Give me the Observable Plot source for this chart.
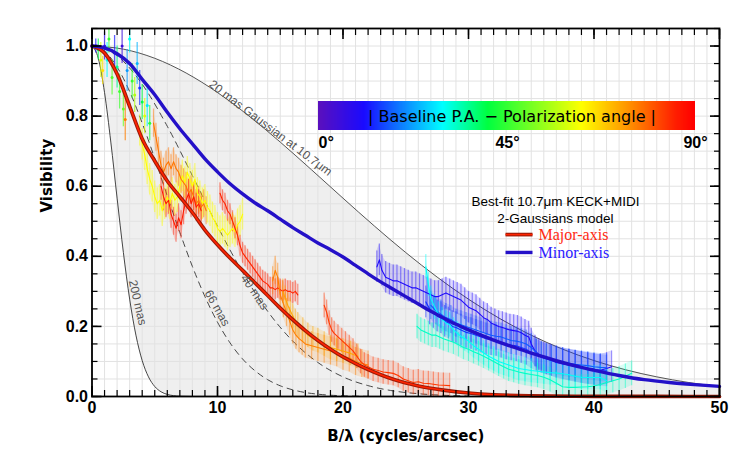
<!DOCTYPE html>
<html><head><meta charset="utf-8">
<script src="https://cdn.jsdelivr.net/npm/d3@7"></script>
<script src="https://cdn.jsdelivr.net/npm/@observablehq/plot@0.6"></script>
<style>
body{margin:0;background:#fff;}
#wrap{position:relative;width:747px;height:456px;overflow:hidden;}
#cbar{position:absolute;left:303px;top:101px;}
#cbarTitle{position:absolute;left:512px;top:116px;font:16px "DejaVu Sans",sans-serif;color:#000;white-space:nowrap;transform:translate(-50%,-50%);}
</style></head><body><div id="wrap"></div>
<script>
// ---------- axes ----------
const xMajor = [0, 10, 20, 30, 40, 50];
const yMajor = [0, 0.2, 0.4, 0.6, 0.8, 1.0];
const xMinor = d3.range(0, 51, 1);
const yMinor = d3.range(0, 22).map(i => i * 0.05);

// ---------- reference Gaussians ----------
const g20F = [0,2.5,5,7.5,10,12.5,15,17.5,20,22.5,25,27.5,30,32.5,35,37.5,40,42.5,45,47.5,50];
const g20V = [1,0.9911,0.9650,0.9230,0.8673,0.8005,0.7259,0.6466,0.5658,0.4864,0.4107,0.3407,0.2776,0.2222,0.1748,0.1350,0.1025,0.0764,0.0560,0.0402,0.0284];
const g200F = [0,0.5,1,1.5,2,2.5,3,3.5,4,4.5,5,5.5,6,7,8,50];
const g200V = [1,0.965,0.867,0.726,0.566,0.411,0.278,0.175,0.1025,0.056,0.0285,0.0135,0.006,0.0009,0.0001,0];
const g40F = [0,2,4,6,8,10,12,14,16,18,20,22,24,26,28,30];
const g40V = [1,0.972,0.891,0.771,0.630,0.486,0.354,0.243,0.158,0.097,0.056,0.031,0.016,0.008,0.0035,0.0015];
const g66F = [0,1,2,3,4,5,6,7,8,9,10,11,12,13,14,15,16,17,18,20,22];
const g66V = [1,0.985,0.940,0.870,0.780,0.679,0.572,0.468,0.371,0.285,0.212,0.153,0.107,0.073,0.048,0.0305,0.019,0.0113,0.0066,0.002,0.0005];

// ---------- 2-Gaussian best-fit models ----------
const majorF = [0,1,2,3,4,5,6,7,8,9,10,11,12,13,14,15,16,17,18,19,20,21,22,23,24,26,28,30,32,35,40,45,50];
const majorV = [1,0.98,0.92,0.828,0.735,0.672,0.615,0.57,0.525,0.475,0.433,0.395,0.36,0.324,0.288,0.252,0.219,0.188,0.16,0.135,0.113,0.094,0.077,0.062,0.049,0.03,0.018,0.01,0.005,0.002,0.0005,0.0001,0];
const minorF = [0,1,2,3,4,5,6,7,8,9,10,11,12,13,14,15,16,17,18,19,20,21,22,23,24,25,26,27,28,29,30,31,32,33,34,35,36,37,38,39,40,42,44,46,48,50];
const minorV = [1,0.995,0.978,0.95,0.905,0.861,0.811,0.764,0.721,0.678,0.641,0.607,0.578,0.552,0.53,0.506,0.482,0.46,0.438,0.419,0.398,0.374,0.35,0.327,0.306,0.285,0.264,0.243,0.224,0.206,0.19,0.175,0.161,0.148,0.136,0.124,0.113,0.102,0.092,0.083,0.075,0.06,0.048,0.04,0.034,0.029];

// ---------- MIDI visibility tracks [B/lambda, V] ----------
const trackYellow = [[3.8,0.76],[4.0,0.72],[4.2,0.69],[4.4,0.65],[4.6,0.62],[4.8,0.60],[5.0,0.57],[5.2,0.55],[5.4,0.56],[5.6,0.53],[5.8,0.55],[6.0,0.57],[6.2,0.55],[6.4,0.58],[6.6,0.56],[6.8,0.57],[7.0,0.60],[7.2,0.63],[7.4,0.61],[7.6,0.64],[7.8,0.62],[8.0,0.60],[8.2,0.62],[8.4,0.58],[8.6,0.57],[8.8,0.55],[9.0,0.56],[9.2,0.54],[9.4,0.53],[9.6,0.51],[9.8,0.50],[10.0,0.48],[10.2,0.47],[10.4,0.48],[10.6,0.47],[10.8,0.46],[11.0,0.47],[11.2,0.48],[11.4,0.47],[11.6,0.49],[11.8,0.50],[12.0,0.52]];
const trackOrangeA = [[4.9,0.78],[5.1,0.74],[5.3,0.70],[5.5,0.66],[5.7,0.64],[5.9,0.66],[6.1,0.67],[6.3,0.65],[6.5,0.67],[6.7,0.65],[6.9,0.64],[7.1,0.62],[7.3,0.61],[7.5,0.60],[7.7,0.58],[7.9,0.59],[8.1,0.57],[8.3,0.55],[8.5,0.56],[8.7,0.54],[8.9,0.55],[9.1,0.53]];
const trackRedA = [[5.5,0.60],[5.7,0.57],[5.9,0.55],[6.1,0.56],[6.3,0.52],[6.5,0.50],[6.7,0.48],[6.9,0.51],[7.1,0.49],[7.3,0.53],[7.5,0.56],[7.7,0.58],[7.9,0.55],[8.1,0.57],[8.3,0.54],[8.5,0.55],[8.7,0.53]];
const trackRedB = [[10.2,0.58],[10.4,0.56],[10.6,0.55],[10.8,0.53],[11.0,0.52],[11.2,0.50],[11.4,0.48],[11.6,0.46],[11.8,0.43],[12.0,0.41],[12.2,0.40],[12.4,0.39],[12.6,0.38],[12.8,0.37],[13.0,0.36],[13.2,0.35],[13.4,0.34],[13.6,0.33],[13.8,0.325],[14.0,0.32],[14.2,0.31],[14.4,0.31],[14.6,0.305],[14.8,0.31],[15.0,0.305],[15.2,0.30],[15.4,0.305],[15.6,0.30],[15.8,0.30],[16.0,0.295],[16.2,0.30],[16.4,0.29]];
const trackOrangeB = [[14.4,0.33],[14.6,0.36],[14.8,0.34],[15.0,0.29],[15.25,0.265],[15.5,0.24],[15.75,0.215],[16.0,0.19],[16.25,0.175],[16.5,0.165],[16.75,0.158],[17.0,0.15],[17.5,0.145],[18.0,0.14],[18.5,0.135],[19.0,0.13],[19.5,0.125],[20.0,0.115],[20.5,0.11],[21.0,0.10],[21.5,0.094],[22.0,0.09]];
const trackOrangeC = [[15.2,0.30],[15.4,0.28],[15.6,0.26],[15.8,0.245],[16.0,0.23],[16.2,0.215],[16.4,0.205],[16.8,0.19],[17.2,0.175],[17.6,0.165],[18.0,0.16],[18.5,0.15],[19.0,0.14],[19.5,0.135],[20.0,0.13],[20.6,0.123],[21.2,0.115]];
const trackRedC = [[18.5,0.26],[18.7,0.24],[18.9,0.21],[19.1,0.19],[19.3,0.18],[19.6,0.17],[19.9,0.16],[20.2,0.15],[20.5,0.14],[20.8,0.13],[21.1,0.115],[21.4,0.10],[21.7,0.09],[22.0,0.085],[22.4,0.078],[22.8,0.074],[23.2,0.07],[23.6,0.068],[24.0,0.066],[24.4,0.06],[24.8,0.05],[25.2,0.045],[25.6,0.04],[26.0,0.042],[26.4,0.038],[26.8,0.037],[27.2,0.035],[27.6,0.033],[28.0,0.032],[28.5,0.031]];
const trackBlueA = [[22.7,0.37],[22.9,0.39],[23.1,0.36],[23.4,0.34],[23.7,0.335],[24.0,0.33],[24.3,0.33],[24.6,0.325],[24.9,0.32],[25.2,0.315],[25.5,0.31],[25.8,0.31],[26.1,0.305],[26.4,0.30],[26.7,0.295],[27.0,0.29],[27.3,0.285],[27.6,0.285],[27.9,0.29],[28.2,0.295],[28.5,0.29],[28.8,0.285],[29.1,0.28],[29.4,0.275],[29.7,0.265],[30.0,0.255],[30.3,0.25],[30.6,0.245],[30.9,0.235],[31.2,0.225],[31.5,0.22],[31.8,0.21],[32.1,0.205],[32.4,0.20],[32.7,0.197],[33.0,0.193],[33.3,0.19],[33.6,0.188],[33.9,0.186],[34.2,0.182],[34.5,0.175],[34.8,0.17],[35.0,0.15],[35.3,0.13],[35.6,0.12],[36.0,0.11],[36.5,0.105],[37.0,0.097],[37.5,0.093],[38.0,0.09],[38.5,0.086],[39.0,0.083],[39.5,0.08],[40.0,0.077],[40.5,0.075],[41.0,0.08],[41.4,0.085]];
const trackBlueB = [[26.6,0.27],[26.9,0.25],[27.2,0.24],[27.5,0.23],[27.8,0.225],[28.1,0.215],[28.4,0.21],[28.7,0.20],[29.0,0.197],[29.4,0.19],[29.8,0.183],[30.2,0.18],[30.6,0.175],[31.0,0.17],[31.4,0.165],[31.8,0.162],[32.2,0.16],[32.6,0.155],[33.0,0.15],[33.4,0.147],[33.8,0.145],[34.2,0.14],[34.6,0.135],[35.0,0.125],[35.4,0.118],[35.8,0.112],[36.2,0.107],[36.6,0.103],[37.0,0.10],[37.5,0.095],[38.0,0.09],[38.5,0.087],[39.0,0.083],[39.5,0.08],[40.0,0.077],[40.5,0.074],[41.0,0.073]];
const trackBlueC = [[27.0,0.26],[27.4,0.245],[27.8,0.235],[28.2,0.225],[28.6,0.22],[29.0,0.21],[29.4,0.205],[29.8,0.20],[30.2,0.195],[30.6,0.19],[31.0,0.185],[31.4,0.18],[31.8,0.175],[32.2,0.172],[32.6,0.17],[33.0,0.165],[33.4,0.16],[33.8,0.158],[34.2,0.155],[34.6,0.15],[35.0,0.14],[35.4,0.125],[35.8,0.115],[36.2,0.11],[36.6,0.105],[37.0,0.102],[37.5,0.098],[38.0,0.095],[38.5,0.092],[39.0,0.09],[39.5,0.088],[40.0,0.085],[40.5,0.083],[41.0,0.082]];
const trackCyanA = [[26.6,0.37],[26.8,0.32],[27.0,0.28],[27.3,0.255],[27.6,0.235],[27.9,0.22],[28.2,0.21],[28.5,0.205],[28.8,0.19],[29.1,0.18],[29.4,0.172],[29.7,0.165],[30.0,0.158],[30.4,0.145],[30.8,0.135],[31.2,0.125],[31.6,0.115],[32.0,0.108],[32.4,0.10],[32.8,0.095],[33.2,0.09],[33.6,0.085],[34.0,0.08],[34.5,0.077],[35.0,0.074],[35.5,0.072],[36.0,0.07],[36.5,0.068],[37.0,0.067],[37.5,0.065],[38.0,0.062],[38.5,0.058],[39.0,0.055],[39.5,0.054],[40.0,0.054],[40.5,0.054],[41.0,0.045]];
const trackCyanB = [[25.9,0.20],[26.2,0.19],[26.5,0.185],[26.8,0.18],[27.1,0.175],[27.4,0.175],[27.7,0.17],[28.0,0.165],[28.4,0.16],[28.8,0.155],[29.2,0.148],[29.6,0.14],[30.0,0.135],[30.4,0.128],[30.8,0.122],[31.2,0.115],[31.6,0.108],[32.0,0.10],[32.4,0.092],[32.8,0.085],[33.2,0.078],[33.6,0.074],[34.0,0.07],[34.5,0.066],[35.0,0.063],[35.5,0.06],[36.0,0.055],[36.5,0.048],[37.0,0.038],[37.5,0.028],[38.0,0.026],[38.5,0.026],[39.0,0.027],[39.5,0.028],[40.0,0.03],[40.5,0.034],[41.0,0.04],[41.5,0.045],[42.0,0.05],[42.5,0.058],[43.0,0.066]];
const tracks = [trackYellow, trackOrangeA, trackRedA, trackRedB, trackOrangeB, trackOrangeC, trackRedC, trackBlueA, trackBlueB, trackBlueC, trackCyanA, trackCyanB];
const trackAngle = [63, 77, 86, 85, 76, 72, 83, 10, 14, 17, 30, 33];
const trackErr = [0.045, 0.04, 0.04, 0.03, 0.04, 0.035, 0.035, 0.045, 0.045, 0.04, 0.035, 0.035];

// short baselines: [B/lambda, V, error, angle]
const lowPts = [[0.3,1.00,0.02,12],[0.5,0.99,0.03,40],[0.7,0.96,0.05,60],[0.85,0.93,0.04,66],[1.0,1.00,0.04,8],[1.2,0.96,0.05,30],[1.35,1.02,0.04,45],[1.6,0.91,0.05,48],[1.8,0.98,0.05,12],[2.0,0.94,0.06,36],[2.2,0.87,0.05,46],[2.4,1.00,0.05,5],[2.5,0.82,0.05,50],[2.65,0.79,0.06,76],[2.8,0.93,0.06,22],[3.0,1.02,0.04,30],[3.2,0.90,0.05,45],[3.4,0.86,0.05,56],[3.6,0.95,0.06,24],[3.8,0.88,0.05,14],[4.0,0.84,0.05,40],[4.2,0.80,0.05,60],[4.4,0.83,0.06,28],[4.6,0.78,0.05,44]];

// colour bar (Baseline P.A. - polarization angle)
const cbarPos = [0, 0.12, 0.33, 0.45, 0.70, 0.82, 0.95, 1];
const cbarColors = ["#5a10be", "#1a0aff", "#00ffff", "#00ff40", "#ffff00", "#ff9600", "#ff1e00", "#ff0000"];
const cbarTicks = [0, 45, 90];

// annotations
const curveLabels = [
  {f: 14.22, v: 0.766, text: "20 mas Gaussian at 10.7μm", rot: 37},
  {f: 3.63, v: 0.268, text: "200 mas", rot: 77},
  {f: 9.98, v: 0.2525, text: "66 mas", rot: 61},
  {f: 12.95, v: 0.2976, text: "40 mas", rot: 56}
];
const legendText = [
  {f: 36.93, v: 0.557, text: "Best-fit 10.7μm KECK+MIDI"},
  {f: 36.93, v: 0.508, text: "2-Gaussians model"}
];
const legendItems = [
  {f1: 32.95, f2: 35.1, v: 0.462, text: "Major-axis", color: "#ff2a12"},
  {f1: 32.95, f2: 35.1, v: 0.411, text: "Minor-axis", color: "#2a20ff"}
];

// ---------- build tables ----------
const zip = (F, V) => F.map((f, i) => ({f, v: V[i]}));
const g20 = zip(g20F, g20V), g200 = zip(g200F, g200V), g40 = zip(g40F, g40V), g66 = zip(g66F, g66V);
const major = zip(majorF, majorV), minor = zip(minorF, minorV);
const rows = tracks.flatMap((t, k) => t.map(([f, v]) => ({id: k, f, v, e: trackErr[k], angle: trackAngle[k]})));
const low = lowPts.map(([f, v, e, angle]) => ({f, v, e, angle}));

const cmapScale = d3.scaleLinear().domain(cbarPos).range(cbarColors).interpolate(d3.interpolateRgb).clamp(true);
const cmap = t => cmapScale(t);

const tickFont = {fontSize: 16, fontWeight: "bold", fontFamily: "Liberation Sans"};

const chart = Plot.plot({
  width: 747, height: 456,
  marginLeft: 91.5, marginRight: 28, marginTop: 28, marginBottom: 60,
  x: {domain: [0, 50]},
  y: {domain: [0, 1.05]},
  color: {type: "linear", domain: [0, 90], interpolate: cmap},
  style: {fontFamily: "Liberation Sans", background: "white", color: "black"},
  marks: [
    Plot.areaY(g20, {x: "f", y: "v", fill: "#efefef", curve: "monotone-x"}),
    Plot.areaY(g200, {x: "f", y: "v", fill: "white", curve: "monotone-x"}),
    Plot.gridX(xMinor, {stroke: "#e2e2e2", strokeOpacity: 1, strokeWidth: 1}),
    Plot.gridY(yMinor, {stroke: "#e2e2e2", strokeOpacity: 1, strokeWidth: 1}),
    Plot.line(g20, {x: "f", y: "v", stroke: "#444", strokeWidth: 0.9, curve: "monotone-x"}),
    Plot.line(g200, {x: "f", y: "v", stroke: "#333", strokeWidth: 0.9, curve: "monotone-x"}),
    Plot.line(g40, {x: "f", y: "v", stroke: "#333", strokeWidth: 0.9, strokeDasharray: "6,5", curve: "monotone-x"}),
    Plot.line(g66, {x: "f", y: "v", stroke: "#333", strokeWidth: 0.9, strokeDasharray: "6,5", curve: "monotone-x"}),
    // data tracks
    Plot.areaY(rows, {x: "f", y1: d => d.v - d.e, y2: d => d.v + d.e, z: "id", fill: "angle", fillOpacity: 0.15, clip: true}),
    Plot.ruleX(rows, {x: "f", y1: d => d.v - d.e, y2: d => d.v + d.e, stroke: "angle", strokeOpacity: 0.45, strokeWidth: 1.2, clip: true}),
    Plot.line(rows, {x: "f", y: "v", z: "id", stroke: "angle", strokeWidth: 1.1, clip: true}),
    Plot.ruleX(low, {x: "f", y1: d => d.v - d.e, y2: d => d.v + d.e, stroke: "angle", strokeOpacity: 0.7, strokeWidth: 1.3, clip: true}),
    Plot.dot(low, {x: "f", y: "v", fill: "angle", r: 1.5, clip: true}),
    // models
    Plot.line(major, {x: "f", y: "v", stroke: "#9a1a08", strokeWidth: 3.7, curve: "monotone-x"}),
    Plot.line(major, {x: "f", y: "v", stroke: "#ff2400", strokeWidth: 1.6, curve: "monotone-x"}),
    Plot.line(minor, {x: "f", y: "v", stroke: "#2410c8", strokeWidth: 3.4, curve: "monotone-x"}),
    // curve labels
    Plot.text(curveLabels, {x: "f", y: "v", text: "text", rotate: "rot", fill: "#555", fontSize: 12, fontFamily: "Liberation Sans"}),
    // legend
    Plot.text(legendText, {x: "f", y: "v", text: "text", fill: "black", fontSize: 13.5, fontFamily: "Liberation Sans"}),
    Plot.link(legendItems.slice(0, 1), {x1: "f1", x2: "f2", y1: "v", y2: "v", stroke: "#9a1a08", strokeWidth: 3.7}),
    Plot.link(legendItems.slice(0, 1), {x1: "f1", x2: "f2", y1: "v", y2: "v", stroke: "#ff2400", strokeWidth: 1.5}),
    Plot.link(legendItems.slice(1), {x1: "f1", x2: "f2", y1: "v", y2: "v", stroke: "#2410c8", strokeWidth: 3.4}),
    Plot.text(legendItems, {x: "f2", y: "v", dx: 6, text: "text", fill: "color", textAnchor: "start", fontSize: 16, fontFamily: "Liberation Serif"}),
    // frame and axes
    Plot.frame({stroke: "black", strokeWidth: 1.8}),
    Plot.axisX(xMinor, {anchor: "bottom", tickSize: -6, tickFormat: () => "", label: null, strokeWidth: 1.2}),
    Plot.axisX(xMajor, {anchor: "bottom", tickSize: -10, tickFormat: () => "", label: null, strokeWidth: 1.6}),
    Plot.axisX(xMinor, {anchor: "top", tickSize: -6, tickFormat: () => "", label: null, strokeWidth: 1.2}),
    Plot.axisX(xMajor, {anchor: "top", tickSize: -10, tickFormat: () => "", label: null, strokeWidth: 1.6}),
    Plot.axisY(yMinor, {anchor: "left", tickSize: -6, tickFormat: () => "", label: null, strokeWidth: 1.2}),
    Plot.axisY(yMajor, {anchor: "left", tickSize: -10, tickFormat: () => "", label: null, strokeWidth: 1.6}),
    Plot.axisY(yMinor, {anchor: "right", tickSize: -6, tickFormat: () => "", label: null, strokeWidth: 1.2}),
    Plot.axisY(yMajor, {anchor: "right", tickSize: -10, tickFormat: () => "", label: null, strokeWidth: 1.6}),
    Plot.axisX(xMajor, {anchor: "bottom", tickSize: 0, tickPadding: 5, label: null, ...tickFont}),
    Plot.axisY(yMajor, {anchor: "left", tickSize: 0, tickPadding: 4, tickFormat: d3.format(".1f"), label: null, ...tickFont}),
    Plot.text(["B/λ (cycles/arcsec)"], {frameAnchor: "bottom", dy: 44, fontSize: 15, fontWeight: "bold", fontFamily: "DejaVu Sans"}),
    Plot.text(["Visibility"], {frameAnchor: "left", dx: -45, rotate: -90, fontSize: 15, fontWeight: "bold", fontFamily: "DejaVu Sans"})
  ]
});

const wrap = document.getElementById("wrap");
wrap.appendChild(chart);

// colour bar legend via Plot's colour scale
const leg = chart.legend("color", {
  width: 407, height: 50, marginLeft: 15, marginRight: 15, marginTop: 0, marginBottom: 21,
  ticks: cbarTicks, tickSize: 0, tickFormat: d => d + "°", label: null
});
const cb = document.createElement("div");
cb.id = "cbar";
cb.appendChild(leg);
wrap.appendChild(cb);
const legSvg = d3.select(leg.tagName.toLowerCase() === "svg" ? leg : leg.querySelector("svg"));
legSvg.style("overflow", "visible").style("background", "none");
legSvg.selectAll(".tick line").remove();
legSvg.selectAll("line").remove();
legSvg.selectAll("text")
  .attr("font-size", 16).attr("font-weight", "bold").attr("font-family", "Liberation Sans")
  .style("font-size", "16px").style("font-weight", "bold").style("font-family", "Liberation Sans")
  .attr("y", 7).attr("fill", "black");
legSvg.selectAll(".tick text").filter((d, i) => i === 0).attr("text-anchor", "start");
const t = document.createElement("div");
t.id = "cbarTitle";
t.textContent = "| Baseline P.A. − Polarization angle |";
wrap.appendChild(t);
</script></body></html>
